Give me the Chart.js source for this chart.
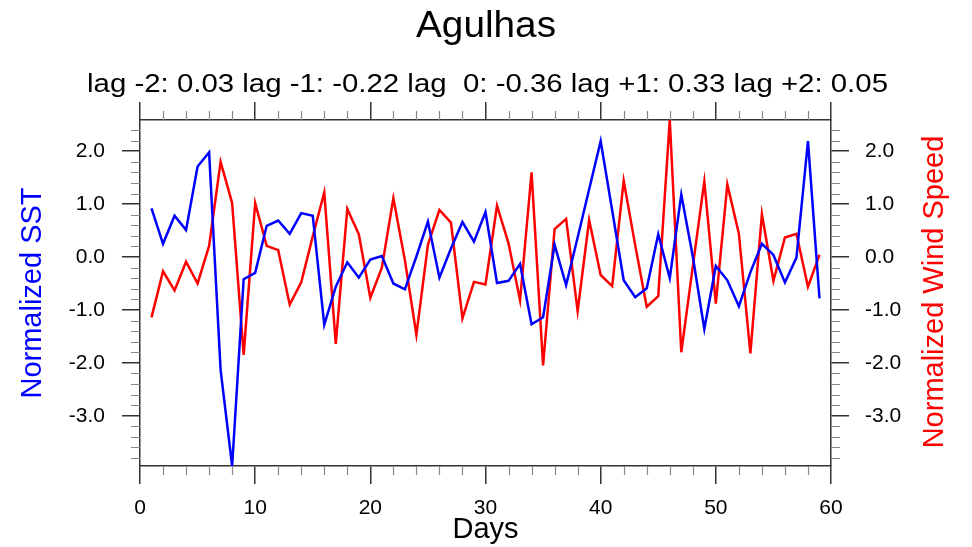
<!DOCTYPE html>
<html>
<head>
<meta charset="utf-8">
<script src="https://cdn.jsdelivr.net/npm/chart.js@4.4.1/dist/chart.umd.min.js"></script>
<style>
  html, body { margin: 0; padding: 0; background: #fff; }
  #wrap { width: 972px; height: 547px; }
</style>
</head>
<body>
<div id="wrap"><canvas id="myChart"></canvas></div>
<script>
// data
const days = [1, 2, 3, 4, 5, 6, 7, 8, 9, 10, 11, 12, 13, 14, 15, 16, 17, 18, 19, 20,
  21, 22, 23, 24, 25, 26, 27, 28, 29, 30, 31, 32, 33, 34, 35, 36, 37, 38, 39, 40,
  41, 42, 43, 44, 45, 46, 47, 48, 49, 50, 51, 52, 53, 54, 55, 56, 57, 58, 59];

const sst = [0.92, 0.25, 0.78, 0.51, 1.71, 1.98, -2.14, -3.95, -0.42, -0.30,
  0.59, 0.69, 0.44, 0.83, 0.78, -1.28, -0.56, -0.10, -0.39, -0.05,
  0.02, -0.50, -0.61, 0.01, 0.67, -0.39, 0.16, 0.66, 0.29, 0.85,
  -0.49, -0.45, -0.13, -1.27, -1.14, 0.23, -0.53, 0.37, 1.28, 2.19,
  0.88, -0.44, -0.76, -0.59, 0.43, -0.40, 1.18, 0.01, -1.36, -0.17,
  -0.44, -0.93, -0.29, 0.25, 0.04, -0.48, -0.01, 2.19, -0.78];

const wind = [-1.14, -0.27, -0.63, -0.09, -0.50, 0.21, 1.80, 1.02, -1.85, 1.02,
  0.21, 0.13, -0.90, -0.48, 0.39, 1.22, -1.64, 0.91, 0.43, -0.77,
  -0.20, 1.11, -0.06, -1.47, 0.23, 0.89, 0.65, -1.16, -0.47, -0.52,
  0.97, 0.26, -0.82, 1.60, -2.05, 0.53, 0.72, -1.02, 0.70, -0.34,
  -0.55, 1.44, 0.22, -0.94, -0.74, 2.59, -1.80, -0.18, 1.43, -0.88,
  1.37, 0.44, -1.82, 0.81, -0.45, 0.37, 0.44, -0.56, 0.04];

const xTicks = [0, 10, 20, 30, 40, 50, 60];
const yTicks = [-3, -2, -1, 0, 1, 2];
const yMin = -3.95, yMax = 2.59;

const chartTitle = "Agulhas";
const chartSubtitle = "lag -2: 0.03 lag -1: -0.22 lag  0: -0.36 lag +1: 0.33 lag +2: 0.05";

const FONT = "'Liberation Sans', Arial, Helvetica, sans-serif";

// the original font runs wider, so stretch a line of text to a given width
function stretchText(ctx, text, cx, y, width) {
  const w = ctx.measureText(text).width;
  ctx.save();
  ctx.translate(cx, y);
  ctx.scale(width / w, 1);
  ctx.fillText(text, 0, 0);
  ctx.restore();
}

// minor ticks + titles drawn on top
const extrasPlugin = {
  id: "extras",
  afterDraw(chart) {
    const ctx = chart.ctx;
    const area = chart.chartArea;
    const xs = chart.scales.x, ys = chart.scales.y;
    ctx.save();
    ctx.strokeStyle = "#888";
    ctx.lineWidth = 1.2;
    ctx.beginPath();
    for (let v = 2; v < 60; v += 2) {
      if (v % 10 === 0) continue;
      const px = Math.round(xs.getPixelForValue(v)) + 0.5;
      ctx.moveTo(px, area.bottom); ctx.lineTo(px, area.bottom + 9);
      ctx.moveTo(px, area.top); ctx.lineTo(px, area.top - 9);
    }
    for (let k = -19; k <= 12; k++) {
      if (k % 5 === 0) continue;
      const py = Math.round(ys.getPixelForValue(k * 0.2)) + 0.5;
      ctx.moveTo(area.left, py); ctx.lineTo(area.left - 9, py);
      ctx.moveTo(area.right, py); ctx.lineTo(area.right + 9, py);
    }
    ctx.stroke();

    ctx.fillStyle = "#000";
    ctx.textAlign = "center";
    ctx.textBaseline = "alphabetic";
    ctx.font = "37px " + FONT;
    stretchText(ctx, chartTitle, 486, 37, 140);
    ctx.font = "26px " + FONT;
    stretchText(ctx, chartSubtitle, 487.5, 92, 801);

    ctx.translate(935, 292);
    ctx.rotate(-Math.PI / 2);
    ctx.fillStyle = "#ff0000";
    ctx.textBaseline = "middle";
    ctx.font = "29px " + FONT;
    ctx.fillText("Normalized Wind Speed", 0, 0);
    ctx.restore();
  }
};

const tickFont = { family: FONT, size: 21 };
const axisBorder = { display: true, color: "#333", width: 1.5 };
const majorGrid = { display: true, drawOnChartArea: false, drawTicks: true, tickLength: 18, color: "#333", lineWidth: 1.5 };

const myChart = new Chart(document.getElementById("myChart").getContext("2d"), {
  type: "line",
  data: {
    datasets: [
      {
        label: "Normalized SST",
        data: days.map((d, i) => ({ x: d, y: sst[i] })),
        borderColor: "#0000ff",
        borderWidth: 2.5,
        pointRadius: 0,
        tension: 0,
        yAxisID: "y",
      },
      {
        label: "Normalized Wind Speed",
        data: days.map((d, i) => ({ x: d, y: wind[i] })),
        borderColor: "#ff0000",
        borderWidth: 2.5,
        pointRadius: 0,
        tension: 0,
        yAxisID: "y2",
      },
    ],
  },
  options: {
    responsive: true,
    maintainAspectRatio: false,
    animation: false,
    layout: { padding: 0 },
    plugins: {
      legend: { display: false },
      tooltip: { enabled: false },
    },
    scales: {
      x: {
        type: "linear",
        position: "bottom",
        min: 0,
        max: 60,
        afterBuildTicks: (s) => { s.ticks = xTicks.map((v) => ({ value: v })); },
        afterFit: (s) => { s.height = 81; },
        ticks: { font: tickFont, color: "#000", padding: 12, maxRotation: 0, autoSkip: false },
        grid: majorGrid,
        border: axisBorder,
        title: { display: true, text: "Days", color: "#000", font: { family: FONT, size: 29 }, padding: { top: 0, bottom: 0 } },
      },
      x2: {
        type: "linear",
        position: "top",
        min: 0,
        max: 60,
        afterBuildTicks: (s) => { s.ticks = xTicks.map((v) => ({ value: v })); },
        afterFit: (s) => { s.height = 120; },
        ticks: { display: false },
        grid: majorGrid,
        border: axisBorder,
      },
      y: {
        type: "linear",
        position: "left",
        min: yMin,
        max: yMax,
        afterBuildTicks: (s) => { s.ticks = yTicks.map((v) => ({ value: v })); },
        afterFit: (s) => { s.width = 140; },
        ticks: { font: tickFont, color: "#000", padding: 17, callback: (v) => v.toFixed(1) },
        grid: majorGrid,
        border: axisBorder,
        title: { display: true, text: "Normalized SST", color: "#0000ff", font: { family: FONT, size: 29 }, padding: { top: 16, bottom: 0 } },
      },
      y2: {
        type: "linear",
        position: "right",
        min: yMin,
        max: yMax,
        afterBuildTicks: (s) => { s.ticks = yTicks.map((v) => ({ value: v })); },
        afterFit: (s) => { s.width = 141; },
        ticks: { font: tickFont, color: "#000", padding: 16, callback: (v) => v.toFixed(1) },
        grid: majorGrid,
        border: axisBorder,
      },
    },
  },
  plugins: [extrasPlugin],
});
</script>
</body>
</html>
